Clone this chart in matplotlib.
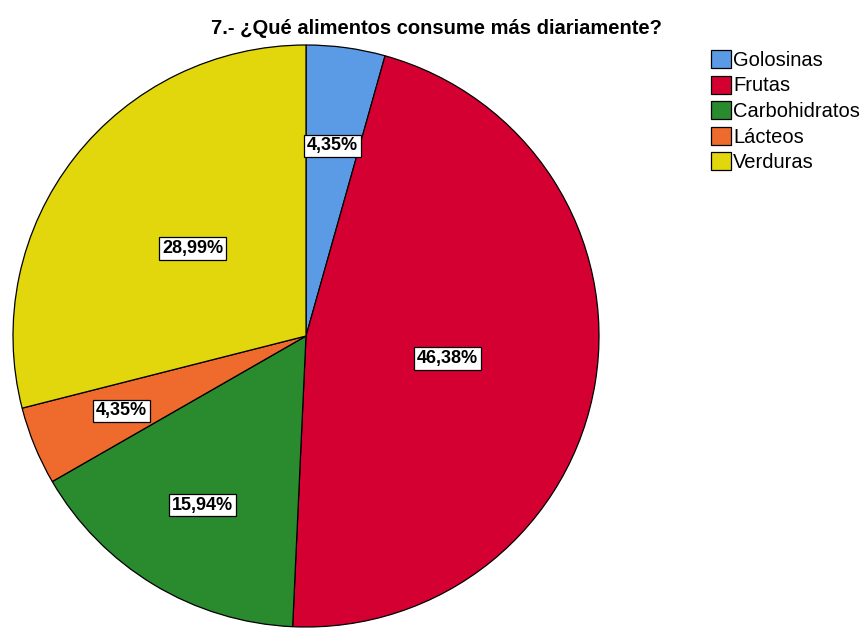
import numpy as np
import matplotlib.pyplot as plt

plt.rcParams['font.family'] = ['Liberation Sans', 'DejaVu Sans']

# 데이터
categorias = ['Golosinas', 'Frutas', 'Carbohidratos', 'Lácteos', 'Verduras']
porcentajes = [4.35, 46.38, 15.94, 4.35, 28.99]
colores = ['#5B9BE6', '#D50032', '#2A8A2E', '#EF6A2D', '#E2D60C']
dist_etiqueta = [0.66, 0.49, 0.68, 0.68, 0.49]
titulo = '7.- ¿Qué alimentos consume más diariamente?'

W, H = 865, 628
fig = plt.figure(figsize=(W / 100, H / 100), dpi=100)

# pie area in pixel coords (left, top, right, bottom)
x0, y0, x1, y1 = 13, 45, 599, 627
ax = fig.add_axes([x0 / W, 1 - y1 / H, (x1 - x0) / W, (y1 - y0) / H])
wedges, _ = ax.pie(porcentajes, colors=colores, startangle=90, counterclock=False,
                   radius=1, wedgeprops=dict(edgecolor='black', linewidth=0.9))
ax.set_xlim(-1, 1)
ax.set_ylim(-1, 1)
ax.set_aspect('auto')
ax.axis('off')

for w, p, d in zip(wedges, porcentajes, dist_etiqueta):
    ang = np.deg2rad((w.theta1 + w.theta2) / 2)
    ax.text(d * np.cos(ang), d * np.sin(ang), f'{p:.2f}%'.replace('.', ','),
            ha='center', va='center', fontsize=13, fontweight='bold',
            bbox=dict(boxstyle='square,pad=0.15', facecolor='white',
                      edgecolor='black', linewidth=0.9))

fig.text(436 / W, 1 - 28 / H, titulo, ha='center', va='center',
         fontsize=14.5, fontweight='bold')

fig.legend(wedges, categorias, loc='upper left', bbox_to_anchor=(711 / W, 1 - 50 / H),
           frameon=False, fontsize=14.5, handlelength=1.0, handleheight=1.0,
           handletextpad=0.1, labelspacing=0.28, borderpad=0, borderaxespad=0)

fig.savefig('out.png', dpi=100, facecolor='white')
